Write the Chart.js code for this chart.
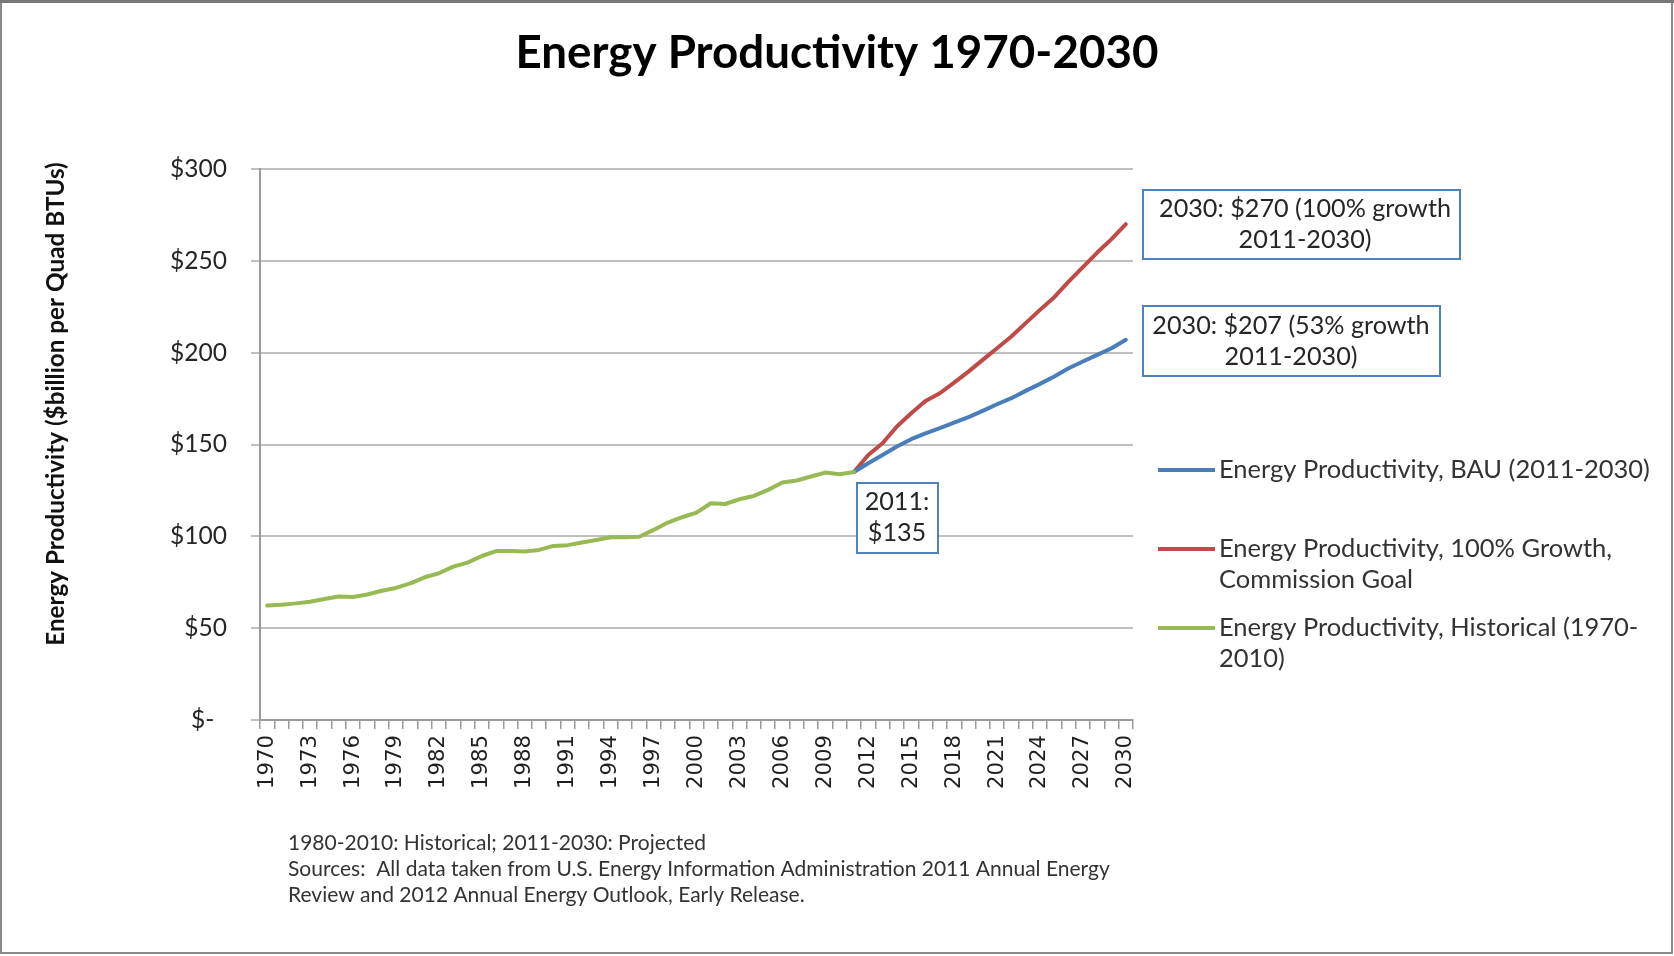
<!DOCTYPE html>
<html>
<head>
<meta charset="utf-8">
<script src="https://cdn.jsdelivr.net/npm/chart.js@4.4.1/dist/chart.umd.min.js"></script>
<style>
  html, body { margin: 0; padding: 0; background: #ffffff; }
  #c { display: block; }
</style>
</head>
<body>
<canvas id="c" width="1674" height="956"></canvas>
<script>
// ---------------- DATA ----------------
const years = [
  '1970','1971','1972','1973','1974','1975','1976','1977','1978','1979',
  '1980','1981','1982','1983','1984','1985','1986','1987','1988','1989',
  '1990','1991','1992','1993','1994','1995','1996','1997','1998','1999',
  '2000','2001','2002','2003','2004','2005','2006','2007','2008','2009',
  '2010','2011','2012','2013','2014','2015','2016','2017','2018','2019',
  '2020','2021','2022','2023','2024','2025','2026','2027','2028','2029','2030'
];
const xTickLabels = ['1970','1973','1976','1979','1982','1985','1988','1991','1994','1997',
  '2000','2003','2006','2009','2012','2015','2018','2021','2024','2027','2030'];
const yTickValues = [0, 50, 100, 150, 200, 250, 300];

// Historical 1970-2011
const historical = [
  62.3, 62.8, 63.5, 64.4, 65.9, 67.2, 67.0, 68.3, 70.4, 71.9,
  74.4, 77.7, 79.9, 83.5, 85.7, 89.3, 92.0, 92.0, 91.7, 92.6,
  94.8, 95.2, 96.6, 98.0, 99.5, 99.5, 99.8, 103.5, 107.5, 110.4,
  112.9, 118.0, 117.6, 120.2, 122.0, 125.3, 129.3, 130.4, 132.6, 134.7,
  133.8, 135.0
];
// BAU 2011-2030
const bau = [
  135.0, 139.8, 144.3, 148.9, 152.9, 156.1, 158.9, 161.9, 164.9, 168.3,
  171.9, 175.2, 179.2, 183.0, 187.0, 191.5, 195.2, 198.8, 202.4, 207.0
];
// 100% growth goal 2011-2030
const goal = [
  135.0, 144.3, 150.7, 159.8, 167.0, 173.7, 177.9, 183.7, 189.7, 196.1,
  202.4, 208.8, 216.1, 223.3, 230.2, 238.7, 246.6, 254.5, 261.8, 270.0
];

const seriesLabels = {
  bau: ['Energy Productivity, BAU (2011-2030)'],
  goal: ['Energy Productivity, 100% Growth,', 'Commission Goal'],
  hist: ['Energy Productivity, Historical (1970-', '2010)']
};
const titleText = 'Energy Productivity 1970-2030';
const yTitleText = 'Energy Productivity ($billion per Quad BTUs)';
const footerLines = [
  '1980-2010: Historical; 2011-2030: Projected',
  'Sources:  All data taken from U.S. Energy Information Administration 2011 Annual Energy',
  'Review and 2012 Annual Energy Outlook, Early Release.'
];
const notes = [
  { lines: ['2030: $270 (100% growth', '2011-2030)'] },
  { lines: ['2030: $207 (53% growth', '2011-2030)'] },
  { lines: ['2011:', '$135'] }
];

// ---------------- helpers ----------------
const projStart = years.indexOf('2011');
const histData = years.map((y, i) => (i < historical.length ? historical[i] : null));
const bauData = years.map((y, i) => (i >= projStart ? bau[i - projStart] : null));
const goalData = years.map((y, i) => (i >= projStart ? goal[i - projStart] : null));

const mctx = document.createElement('canvas').getContext('2d');
function fit(text, weight, family, targetW) {
  mctx.font = weight + ' 100px ' + family;
  return 100 * targetW / mctx.measureText(text).width;
}
const SANS = 'Lato, "Open Sans", sans-serif';
const titleSize = fit(titleText, 'bold', SANS, 643);
const yTitleSize = fit(yTitleText, 'bold', SANS, 484);
const yTickSize = fit('$300', 'normal', SANS, 57);
const xTickSize = fit('1970', 'normal', '"DejaVu Sans"', 54);
const legendSize = fit(seriesLabels.bau[0], 'normal', SANS, 431);
const boxSize = fit(notes[0].lines[0], 'normal', SANS, 292);
const footerSize = fit(footerLines[1], 'normal', SANS, 822);

const COLORS = { bau: '#4a7ebb', goal: '#be4b48', hist: '#98b954' };

const decor = {
  id: 'decor',
  beforeDraw(chart) {
    const ctx = chart.ctx;
    ctx.save();
    ctx.fillStyle = '#ffffff';
    ctx.fillRect(0, 0, chart.width, chart.height);
    ctx.restore();
  },
  afterDraw(chart) {
    const ctx = chart.ctx;
    ctx.save();
    // frame
    ctx.strokeStyle = '#8a8a8a';
    ctx.lineWidth = 2;
    ctx.strokeRect(1, 2, 1671, 951);
    ctx.fillStyle = '#777';
    ctx.fillRect(0, 0, 1674, 3);

    // title
    ctx.fillStyle = '#000000';
    ctx.textAlign = 'center';
    ctx.textBaseline = 'middle';
    ctx.font = 'bold ' + titleSize + 'px ' + SANS;
    ctx.fillText(titleText, 837, 53);

    // y-axis title
    ctx.save();
    ctx.translate(56, 404);
    ctx.rotate(-Math.PI / 2);
    ctx.font = 'bold ' + yTitleSize + 'px ' + SANS;
    ctx.fillStyle = '#111';
    ctx.fillText(yTitleText, 0, 0);
    ctx.restore();

    // footer
    ctx.textAlign = 'left';
    ctx.fillStyle = '#333';
    ctx.font = footerSize + 'px ' + SANS;
    const fy = [843, 869, 895];
    footerLines.forEach((t, i) => ctx.fillText(t, 288, fy[i]));

    // legend
    const legendItems = [
      { key: 'bau', y: [470] },
      { key: 'goal', y: [549, 580] },
      { key: 'hist', y: [628, 659] }
    ];
    ctx.font = legendSize + 'px ' + SANS;
    legendItems.forEach(it => {
      ctx.strokeStyle = COLORS[it.key];
      ctx.lineWidth = 4;
      ctx.lineCap = 'butt';
      ctx.beginPath();
      ctx.moveTo(1158, it.y[0]);
      ctx.lineTo(1215, it.y[0]);
      ctx.stroke();
      ctx.fillStyle = '#333';
      seriesLabels[it.key].forEach((t, i) => ctx.fillText(t, 1219, it.y[i]));
    });

    // annotation boxes
    const boxes = [
      { x: 1143, y: 190, w: 317, h: 69, cx: 1305, ly: [209, 240] },
      { x: 1143, y: 306, w: 297, h: 70, cx: 1291, ly: [326, 357] },
      { x: 857, y: 483, w: 81, h: 70, cx: 897, ly: [502, 533] }
    ];
    ctx.font = boxSize + 'px ' + SANS;
    ctx.textAlign = 'center';
    boxes.forEach((b, k) => {
      ctx.fillStyle = '#ffffff';
      ctx.fillRect(b.x, b.y, b.w, b.h);
      ctx.strokeStyle = '#4f81bd';
      ctx.lineWidth = 2;
      ctx.strokeRect(b.x, b.y, b.w, b.h);
      ctx.fillStyle = '#262626';
      notes[k].lines.forEach((t, i) => ctx.fillText(t, b.cx, b.ly[i]));
    });
    ctx.restore();
  }
};

new Chart(document.getElementById('c'), {
  type: 'line',
  data: {
    labels: years,
    datasets: [
      { label: seriesLabels.hist.join(' '), data: histData, borderColor: COLORS.hist },
      { label: seriesLabels.bau.join(' '), data: bauData, borderColor: COLORS.bau },
      { label: seriesLabels.goal.join(' '), data: goalData, borderColor: COLORS.goal }
    ].map(d => Object.assign(d, {
      borderWidth: 4, pointRadius: 0, tension: 0, fill: false,
      borderCapStyle: 'round', borderJoinStyle: 'round', spanGaps: false
    }))
  },
  options: {
    responsive: false,
    animation: false,
    devicePixelRatio: 1,
    layout: { padding: { top: 169, right: 541, left: 0, bottom: 0 } },
    plugins: { legend: { display: false }, title: { display: false }, tooltip: { enabled: false } },
    scales: {
      x: {
        type: 'category',
        offset: true,
        afterFit(scale) { scale.height = 236; },
        grid: { display: true, drawOnChartArea: false, drawTicks: true, tickLength: 9, color: '#9a9a9a', lineWidth: 1.5, offset: true },
        border: { display: true, color: '#9a9a9a', width: 2 },
        ticks: {
          autoSkip: false, minRotation: 90, maxRotation: 90, padding: 6,
          color: '#1f1f1f',
          font: { family: '"DejaVu Sans"', size: xTickSize },
          callback(value) { const l = this.getLabelForValue(value); return xTickLabels.includes(l) ? l : ''; }
        }
      },
      y: {
        min: 0, max: 300,
        afterFit(scale) { scale.width = 260; },
        afterBuildTicks(scale) { scale.ticks = yTickValues.map(v => ({ value: v })); },
        grid: { color: '#bfbfbf', lineWidth: 2, tickLength: 9, drawTicks: true },
        border: { display: true, color: '#9a9a9a', width: 2 },
        ticks: {
          padding: 24, color: '#262626',
          font: { family: SANS, size: yTickSize },
          callback(v) { return v === 0 ? '$-  ' : '$' + v; }
        }
      }
    }
  },
  plugins: [decor]
});
</script>
</body>
</html>
